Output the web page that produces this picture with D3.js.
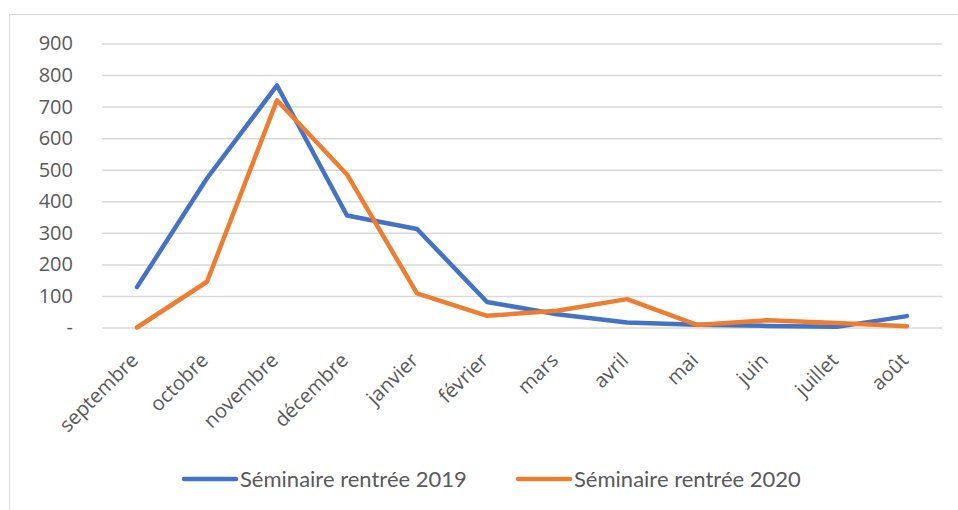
<!DOCTYPE html>
<html>
<head>
<meta charset="utf-8">
<script src="https://cdn.jsdelivr.net/npm/d3@7"></script>
<style>
  body{margin:0;background:#fff}
  text{fill:#595959}
</style>
</head>
<body>
<script>
// donnees
const mois=["septembre","octobre","novembre","décembre","janvier","février","mars","avril","mai","juin","juillet","août"]
const rentree2019=[128,473,767,355,312,81,42,16,9,5,2,36]
const rentree2020=[0,145,720,485,108,37,53,90,8,23,14,4]
const series=["Séminaire rentrée 2019","Séminaire rentrée 2020"]
const yTicks=[0,100,200,300,400,500,600,700,800,900]
const yLabels=["-","100","200","300","400","500","600","700","800","900"]

const width=958
const height=510
const couleurs=["#4472c4","#ed7d31"]

const svg=d3.select("body").append("svg")
  .attr("width",width)
  .attr("height",height)

// cadre du graphique
svg.append("rect")
  .attr("x",9.5).attr("y",14.5)
  .attr("width",960).attr("height",510)
  .attr("fill","none").attr("stroke","#d9d9d9").attr("stroke-width",1)

const x=d3.scalePoint().domain(mois).range([102,942]).padding(0.5)
const y=d3.scaleLinear().domain([0,900]).range([327.5,43.5])

// grille + axe Y
const yAxis=d3.axisLeft(y).tickValues(yTicks)
  .tickSize(-(942-102)).tickPadding(29)
  .tickFormat((d,i)=>yLabels[i])
const gy=svg.append("g").attr("transform","translate(102,0)").call(yAxis)
gy.select(".domain").remove()
gy.selectAll("line").attr("stroke","#d9d9d9").attr("stroke-width",1.5)
gy.selectAll("text").style("font-family","'Open Sans'").style("font-size","20px").attr("fill","#595959")

// axe X, etiquettes en biais
const xAxis=d3.axisBottom(x).tickSize(0)
const gx=svg.append("g").attr("transform","translate(0,327.5)").call(xAxis)
gx.select(".domain").remove()
gx.selectAll("text")
  .style("font-family","'Open Sans'").style("font-size","20px").attr("fill","#595959")
  .attr("text-anchor","end")
  .attr("dy","0")
  .attr("y",0)
  .attr("transform","translate(2,34) rotate(-45)")

// courbes
const ligne=d3.line().x((d,i)=>x(mois[i])).y(d=>y(d))
;[rentree2019,rentree2020].forEach((vals,k)=>{
  svg.append("path")
    .datum(vals)
    .attr("d",ligne)
    .attr("fill","none")
    .attr("stroke",couleurs[k])
    .attr("stroke-width",4.5)
    .attr("stroke-linejoin","round")
    .attr("stroke-linecap","round")
})

// legende
const legX=[184,518]
series.forEach((s,k)=>{
  const g=svg.append("g").attr("transform",`translate(${legX[k]},479)`)
  g.append("line").attr("x1",0).attr("x2",52).attr("y1",0).attr("y2",0)
    .attr("stroke",couleurs[k]).attr("stroke-width",4.5).attr("stroke-linecap","round")
  g.append("text").attr("x",56).attr("y",0).attr("dy","0.35em")
    .style("font-family","Lato").style("font-size","22px")
    .text(s)
})
</script>
</body>
</html>
